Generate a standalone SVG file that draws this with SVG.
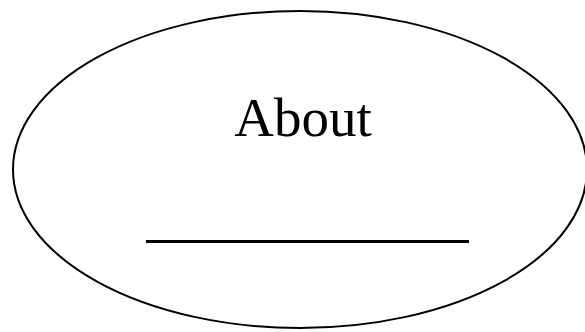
<svg xmlns="http://www.w3.org/2000/svg" width="585" height="332" viewBox="0 0 585 332">
<style>
.shape{fill:none;stroke:#000;stroke-width:2}
.label{font-family:"Liberation Serif","Times New Roman",serif;font-size:55px;fill:#000}
.rule{stroke:#000;stroke-width:3}
</style>
<rect width="585" height="332" fill="#fff"/>
<g id="about">
<ellipse class="shape" cx="300" cy="169.5" rx="287" ry="158.5"/>
<text class="label" x="303" y="136" text-anchor="middle">About</text>
<line class="rule" x1="146" y1="241.5" x2="469" y2="241.5"/>
</g>
</svg>
